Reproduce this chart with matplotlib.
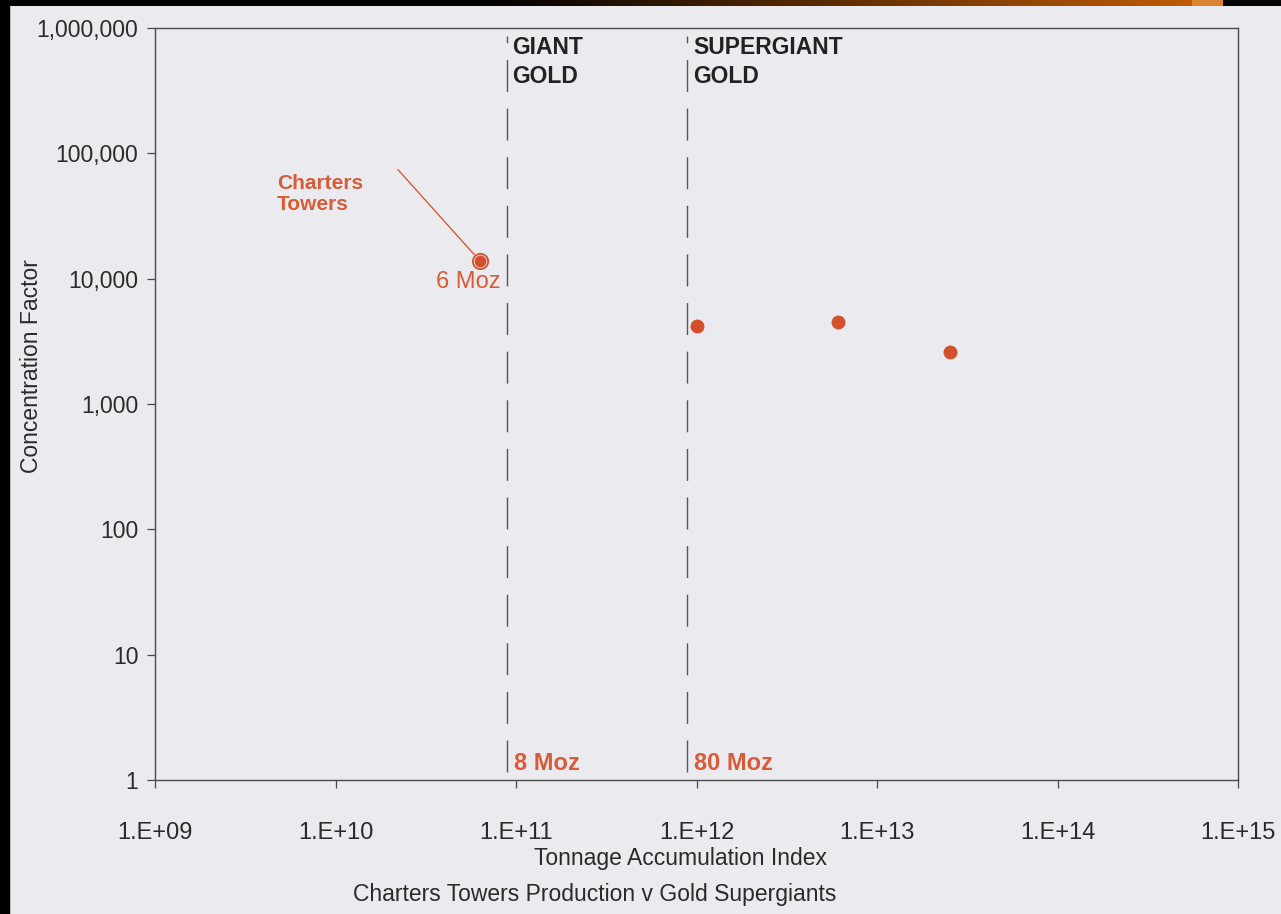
import matplotlib.pyplot as plt
import matplotlib.patches
import matplotlib.ticker as mticker
import numpy as np

# deposits: tonnage accumulation index vs concentration factor
ct_tai = 6.3e10
ct_cf = 1.39e4
giants_tai = [1.0e12, 6.1e12, 2.55e13]
giants_cf = [4200, 4550, 2620]

# class boundaries (8 Moz and 80 Moz)
bound_tai = [8.9e10, 8.9e11]
bound_names = ["GIANT\nGOLD", "SUPERGIANT\nGOLD"]
bound_moz = ["8 Moz", "80 Moz"]

x_ticks = [1e9, 1e10, 1e11, 1e12, 1e13, 1e14, 1e15]
y_ticks = [1, 10, 100, 1000, 10000, 100000, 1000000]

orange = "#d95b37"
dot = "#d4502c"
grey = "#4a4a4a"
bg = "#ebebef"

plt.rcParams['font.family'] = ['Liberation Sans', 'DejaVu Sans']

fig = plt.figure(figsize=(12.81, 9.14), dpi=100)
fig.patch.set_facecolor(bg)
ax = fig.add_axes([155/1281, 1-780/914, 1083/1281, 752/914])
ax.set_facecolor(bg)
ax.set_xscale('log')
ax.set_yscale('log')
ax.set_xlim(1e9, 1e15)
ax.set_ylim(1, 1e6)

for s in ax.spines.values():
    s.set_color(grey)
    s.set_linewidth(1.0)

ax.set_xticks(x_ticks)
ax.set_yticks(y_ticks)
ax.xaxis.set_minor_locator(mticker.NullLocator())
ax.yaxis.set_minor_locator(mticker.NullLocator())
ax.set_xticklabels(["1.E+%02d" % int(np.log10(v)) for v in x_ticks])
ax.set_yticklabels(["{:,}".format(v) for v in y_ticks])
ax.tick_params(axis='x', direction='out', length=6, width=0.9, color=grey,
               labelsize=17, labelcolor="#2a2a2a", pad=24)
ax.tick_params(axis='y', direction='out', length=6, width=0.9, color=grey,
               labelsize=16.5, labelcolor="#2a2a2a", pad=6)

ax.set_ylabel("Concentration Factor", fontsize=16.5, color="#2a2a2a")
ax.yaxis.set_label_coords(-0.103, 0.55)

# dashed class boundaries
for xb, name, moz in zip(bound_tai, bound_names, bound_moz):
    ax.plot([xb, xb], [1.15, 8.6e5], color="#555555", lw=1.0,
            linestyle=(0, (23, 12)))
    ax.annotate(name, xy=(xb, 1e6), xytext=(4, -6), textcoords='offset points',
                ha='left', va='top', fontsize=16.5, fontweight='bold',
                color="#222222", linespacing=1.3)
    ax.annotate(moz, xy=(xb, 1), xytext=(5, 12), textcoords='offset points',
                ha='left', va='center', fontsize=17, fontweight='bold',
                color=orange)

# Charters Towers
ax.plot(ct_tai, ct_cf, 'o', ms=11, mfc='none', mec=dot, mew=1.3, zorder=4)
ax.plot(ct_tai, ct_cf, 'o', ms=7.5, color=dot, zorder=5)
ax.annotate('', xy=(ct_tai, ct_cf), xytext=(2.22e10, 7.4e4),
            arrowprops=dict(arrowstyle='-', color=orange, lw=1.0,
                            shrinkA=0, shrinkB=6))
ax.text(4.74e9, 4.75e4, "Charters\nTowers", ha='left', va='center',
        fontsize=15, fontweight='bold', color=orange, linespacing=1.15)
ax.annotate("6 Moz", xy=(ct_tai, ct_cf), xytext=(15, -15),
            textcoords='offset points', ha='right', va='center',
            fontsize=17, color=orange)

# supergiants
ax.plot(giants_tai, giants_cf, 'o', ms=9, color=dot, lw=0, zorder=5)

fig.text(681/1281, 1-859/914, "Tonnage Accumulation Index", ha='center',
         va='center', fontsize=16.5, color="#2a2a2a")
fig.text(595/1281, 1-894/914, "Charters Towers Production v Gold Supergiants",
         ha='center', va='center', fontsize=16.5, color="#2a2a2a")

# slide border: black strip on the left, dark-to-orange strip on top
fig.patches.append(matplotlib.patches.Rectangle((0, 0), 9/1281, 1,
                   transform=fig.transFigure, color='black', zorder=10))
band = fig.add_axes([0, 1-6/914, 1, 6/914])
band.set_axis_off()
cols = np.linspace(0, 1280, 1281)
rgb = np.zeros((1, 1281, 3))
t = np.clip((cols - 490) / (1190 - 490), 0, 1)
rgb[0, :, 0] = 0.75 * t
rgb[0, :, 1] = 0.36 * t
rgb[0, :, 2] = 0.02 * t
stripe = (cols >= 1192) & (cols <= 1222)
rgb[0, stripe] = [0.85, 0.52, 0.2]
rgb[0, cols > 1222] = [0.02, 0.02, 0.02]
band.imshow(rgb, aspect='auto', extent=(0, 1, 0, 1))

fig.savefig("out.png", dpi=100, facecolor=fig.get_facecolor())
